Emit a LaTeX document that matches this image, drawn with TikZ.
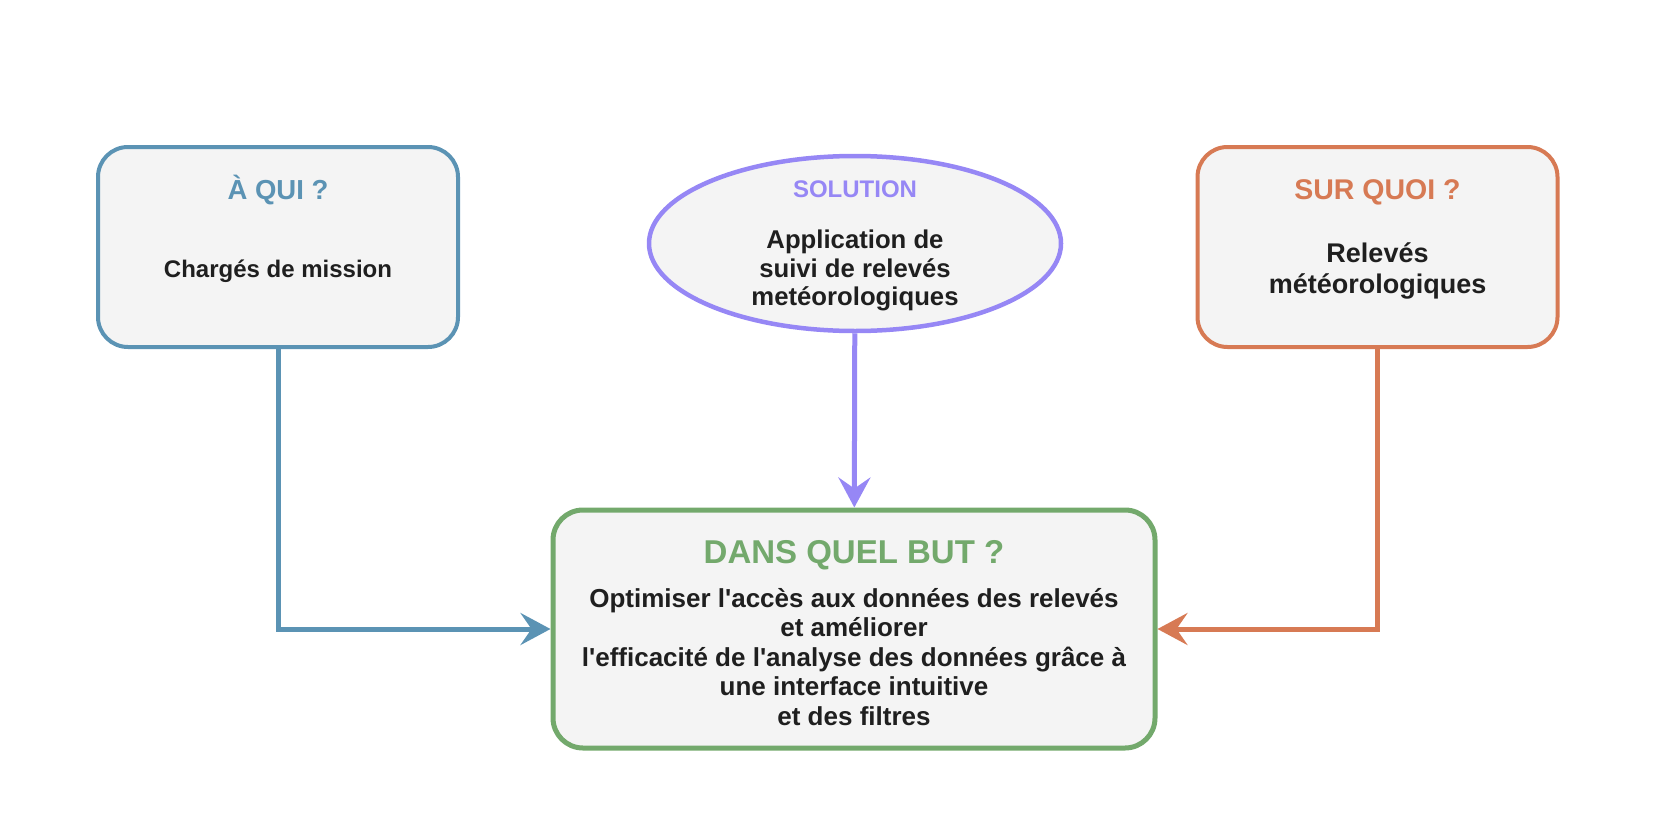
\documentclass[tikz,border=0pt]{standalone}
\usepackage{fontspec}
\setmainfont{Liberation Sans}
\usepackage{tikz}
\usetikzlibrary{arrows.meta, shapes, positioning}
\definecolor{quibleu}{HTML}{5B93B4}
\definecolor{solviolet}{HTML}{9687F5}
\definecolor{surorange}{HTML}{D77A54}
\definecolor{butvert}{HTML}{73A96C}
\definecolor{fond}{HTML}{F4F4F4}
\definecolor{texte}{HTML}{1F1F1F}
\newcommand{\taille}[2]{\fontsize{#1}{#2}\selectfont}
\newcommand{\apos}{\textquotesingle}
\tikzstyle{cadre} = [rectangle, rounded corners=30pt, minimum width=360pt, minimum height=200pt, fill=fond, line width=4pt]
\tikzstyle{bulle} = [ellipse, minimum width=412pt, minimum height=175pt, fill=fond, draw=solviolet, line width=4.5pt]
\tikzstyle{cible} = [rectangle, rounded corners=30pt, minimum width=602pt, minimum height=238pt, fill=fond, draw=butvert, line width=5pt]
\tikzstyle{titre} = [anchor=base, inner sep=0pt]
\tikzstyle{corps} = [anchor=base, inner sep=0pt, align=center, text=texte]
\tikzset{
	FLECHE/.style={line width=5pt, arrows={-Stealth[length=30pt, width=32pt, inset=11pt]}}
}

\begin{document}
\begin{tikzpicture}[x=1pt, y=-1pt]
	\useasboundingbox (0,0) rectangle (1662,830);
	\node (qui) [cadre, draw=quibleu] at (278,247) {};
	\node (sol) [bulle] at (855,243.5) {};
	\node (sur) [cadre, draw=surorange] at (1377.5,247) {};
	\node (but) [cible] at (854,629) {};
	% textes (base = derniere ligne)
	\node (quiTitre) [titre, text=quibleu, font=\bfseries\taille{27.5}{33}] at (278,199) {À QUI ?};
	\node (quiCorps) [corps, font=\bfseries\taille{24}{29}] at (278,277) {Chargés de mission};
	\node (solTitre) [titre, text=solviolet, font=\bfseries\taille{24}{29}] at (855,197) {SOLUTION};
	\node (solCorps) [corps, font=\bfseries\taille{25.7}{28.7}] at (855,305.7) {Application de\\suivi de relevés\\metéorologiques};
	\node (surTitre) [titre, text=surorange, font=\bfseries\taille{28.5}{34}] at (1377.5,199) {SUR QUOI ?};
	\node (surCorps) [corps, font=\bfseries\taille{27}{31}] at (1377.5,293) {Relevés\\météorologiques};
	\node (butTitre) [titre, text=butvert, font=\bfseries\taille{33}{38}] at (854,563.3) {DANS QUEL BUT ?};
	\node (butCorps) [corps, font=\bfseries\taille{26}{29.4}] at (854,725) {Optimiser l\apos accès aux données des relevés\\et améliorer\\l\apos efficacité de l\apos analyse des données grâce à\\une interface intuitive\\et des filtres};
	% fleches
	\draw [FLECHE, quibleu] (qui) |- (but);
	\draw [FLECHE, solviolet] (sol) -- (but);
	\draw [FLECHE, surorange] (sur) |- (but);
\end{tikzpicture}
\end{document}
